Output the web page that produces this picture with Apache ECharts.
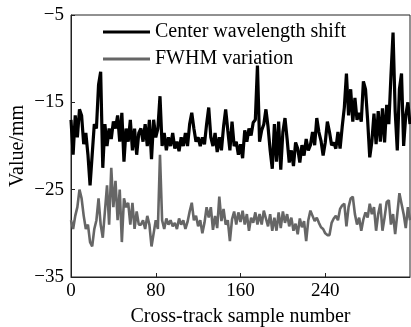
<!DOCTYPE html>
<html>
<head>
<meta charset="utf-8">
<script src="https://cdn.jsdelivr.net/npm/echarts@6/dist/echarts.min.js"></script>
<style>
  html, body { margin: 0; padding: 0; background: #fff; }
  #chart { width: 411px; height: 327px; }
</style>
</head>
<body>
<div id="chart"></div>
<script>
// sample numbers, every 2nd sample
const samples = [];
for (let s = 0; s <= 320; s += 2) samples.push(s);

const centerShift = [
  -17, -21, -16.5, -19, -15.8, -16.5, -19.8, -18.5, -21, -24.5, -21, -17.5, -18, -13, -11.5, -22.5,
  -17.5, -20, -18, -19.2, -17.2, -18, -16.5, -19.5, -16.2, -21.8, -18, -19.5, -17, -20.5, -18, -21, -18.5,
  -18, -19.5, -17.5, -20, -17, -21.5, -17, -19, -18, -14.3, -20, -18.5, -20.5, -19, -20, -18.5,
  -20.3, -19.5, -20.6, -19, -20, -18.5, -20, -17.5, -16.2, -18, -19.5, -19, -20, -19, -19.8, -17.5,
  -15.6, -19, -20, -18.5, -20.7, -19, -20.5, -17.8, -15.8, -18.2, -20.5, -17.2, -20, -19.5, -21, -19.8,
  -21.4, -18.2, -19.5, -18, -18.8, -17.3, -17, -10.8, -19.5, -18.2, -17.5, -15.8, -17.8, -20.5, -22.6, -17.5,
  -21.8, -17.2, -22.7, -18.4, -16.8, -19.2, -21.9, -20.5, -22.3, -19.6, -20.3, -21.9, -19.9, -21.1, -19.2, -20.5,
  -19.9, -18.4, -19.9, -16.8, -18.4, -19.4, -21.1, -19.6, -17.2, -18.4, -19.9, -19.6, -20.3, -18.4, -20.3, -17.8,
  -15.6, -11.7, -16.5, -13.5, -17.2, -14.5, -17, -16.2, -17.2, -12.6, -13.5, -17, -21.3, -19.5, -16.3, -19.8,
  -16, -19.5, -15.7, -19.6, -15.3, -17.5, -12, -7, -16, -20.5, -13.5, -11.7, -20, -16.5, -15, -17.5
];

const fwhmVar = [
  -28.5, -29.5, -28, -27, -25, -26, -28, -29.5, -29, -31, -31.5, -29.5, -28.5, -26, -29, -30.5,
  -27.5, -24.5, -29, -22.5, -27, -24, -28.5, -25, -31, -26, -27, -26.5, -29, -26.5, -29.5, -27.5, -29,
  -29, -28.5, -29.5, -28, -29, -31.5, -30, -28.5, -29.5, -21, -28.5, -29.5, -28.3, -29, -28.5, -29.2,
  -28.8, -29.5, -28.3, -29, -28.5, -29.5, -28.7, -27.5, -26.5, -28.5, -28, -29.2, -28.5, -30, -28.8, -27,
  -28.2, -27, -29.6, -28, -29.4, -25.8, -28.6, -27.2, -29, -28.5, -30.9, -28.4, -27.5, -29, -27.6, -28.7,
  -27.4, -29, -27.8, -29.7, -28.2, -28.8, -27.6, -29, -27.8, -29, -27.4, -28.3, -29.2, -27.8, -29.7, -28.2,
  -29.7, -27.6, -29.4, -27.5, -28.8, -27.8, -29.2, -28.2, -29.7, -28.9, -30.1, -28.3, -29.3, -28.6, -30.9, -28.5,
  -27.4, -28, -28.6, -28.2, -28.8, -29.3, -29.5, -30, -30.2, -30.2, -28.8, -28.3, -28, -28.5, -27.2, -26.8,
  -26.6, -29.2, -27, -26, -25.8, -27.8, -29, -28.2, -29.7, -28.4, -27.6, -28.2, -26.6, -27.8, -27, -29.7,
  -27.8, -26.6, -29.7, -28.2, -26.4, -26.2, -29, -27.8, -30.1, -27.8, -25.4, -26.6, -27.8, -29.4, -27, -28.5
];

const serif = 'Liberation Serif';
const minus = v => String(v).replace('-', '\u2212');

const chart = echarts.init(document.getElementById('chart'));
chart.setOption({
  animation: false,
  grid: {
    left: 71, right: 1, top: 15, bottom: 50,
    outerBoundsMode: 'none',
    show: true, borderColor: '#222', borderWidth: 1
  },
  legend: {
    orient: 'vertical',
    left: 103,
    top: 22,
    padding: 0,
    icon: 'rect',
    itemWidth: 47,
    itemHeight: 3,
    itemGap: 7,
    textStyle: { fontFamily: serif, fontSize: 20, color: '#000' },
    data: ['Center wavelength shift', 'FWHM variation']
  },
  xAxis: {
    type: 'value',
    min: 0,
    max: 320,
    interval: 80,
    name: 'Cross-track sample number',
    nameLocation: 'middle',
    nameGap: 30,
    nameTextStyle: { fontFamily: serif, fontSize: 20, color: '#000' },
    axisLine: { lineStyle: { color: '#222', width: 1 } },
    axisTick: { inside: true, length: 4, lineStyle: { color: '#222' } },
    axisLabel: { showMaxLabel: false, margin: 5, fontFamily: serif, fontSize: 19, color: '#000' },
    splitLine: { show: false }
  },
  yAxis: {
    type: 'value',
    min: -35,
    max: -5,
    interval: 10,
    name: 'Value/mm',
    nameLocation: 'middle',
    nameGap: 43,
    nameMoveOverlap: false,
    nameRotate: 90,
    nameTextStyle: { fontFamily: serif, fontSize: 20, color: '#000' },
    axisLine: { lineStyle: { color: '#222', width: 1 } },
    axisTick: { inside: true, length: 4, lineStyle: { color: '#222' } },
    axisLabel: { margin: 7, fontFamily: serif, fontSize: 19, color: '#000', formatter: minus },
    splitLine: { show: false }
  },
  series: [
    {
      name: 'Center wavelength shift',
      type: 'line',
      symbol: 'none',
      data: samples.map((s, i) => [s, centerShift[i]]),
      lineStyle: { color: '#000', width: 3.2 },
      itemStyle: { color: '#000' }
    },
    {
      name: 'FWHM variation',
      type: 'line',
      symbol: 'none',
      data: samples.map((s, i) => [s, fwhmVar[i]]),
      lineStyle: { color: '#666', width: 2.6 },
      itemStyle: { color: '#666' }
    }
  ]
});
</script>
</body>
</html>
